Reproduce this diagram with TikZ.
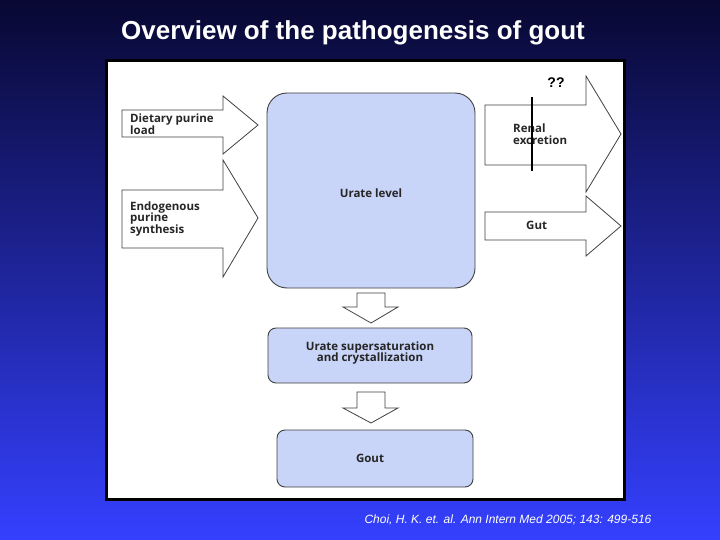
\documentclass[tikz,border=0pt]{standalone}
\usepackage{fontspec}
\setmainfont{Liberation Sans}
\newfontfamily\diag{Open Sans}
\definecolor{boxblue}{RGB}{200,212,248}
\definecolor{topbg}{RGB}{8,8,50}
\definecolor{botbg}{RGB}{52,64,255}
\begin{document}
\begin{tikzpicture}[x=1pt,y=-1pt,
  arr/.style={draw=black!75,fill=white,line width=0.8pt,line join=miter},
  box/.style={draw=black!75,fill=boxblue,line width=0.9pt},
  lab/.style={font=\diag\bfseries\fontsize{11.5}{11.5}\selectfont,text=black!85,align=left,inner sep=0pt}]
\useasboundingbox (0,0) rectangle (720,540);
\shade[top color=topbg,bottom color=botbg] (0,0) rectangle (720,540);
\node[font=\bfseries\fontsize{26}{26}\selectfont,text=white] (title) at (353,33) {Overview of the pathogenesis of gout};
\draw[fill=white,draw=black,line width=3pt] (106,61) rectangle (624,499);
% boxes
\draw[box,rounded corners=20pt] (267,93) rectangle (475,288);
\node[lab] (urate) at (371,193) {Urate level};
\draw[box,rounded corners=8pt] (268,328) rectangle (472,383);
\node[lab,align=center] (super) at (370,353) {Urate supersaturation\\and crystallization};
\draw[box,rounded corners=8pt] (277,430) rectangle (473,487);
\node[lab] (gout) at (370,458) {Gout};
% left arrows
\draw[arr] (122,110) -- (223,110) -- (223,96) -- (258,125) -- (223,154) -- (223,137) -- (122,137) -- cycle;
\node[lab,anchor=west] (diet) at (130,124) {Dietary purine\\load};
\draw[arr] (122,190) -- (223,190) -- (223,160) -- (258,218) -- (223,277) -- (223,248) -- (122,248) -- cycle;
\node[lab,anchor=west] (endo) at (130,219) {Endogenous\\purine\\synthesis};
% right arrows
\draw[arr] (485,105) -- (586,105) -- (586,76) -- (621,134) -- (586,192) -- (586,165) -- (485,165) -- cycle;
\node[lab,anchor=west] (renal) at (513,134) {Renal\\excretion};
\draw[arr] (485,212) -- (586,212) -- (586,196) -- (621,226) -- (586,256) -- (586,240) -- (485,240) -- cycle;
\node[lab,anchor=west] (gut) at (526,225) {Gut};
\draw[line width=2.5pt] (532,97) -- (532,171);
\node[font=\bfseries\fontsize{14}{14}\selectfont] (qq) at (556,83) {??};
% down arrows
\draw[arr] (357,293) -- (385,293) -- (385,307) -- (398,307) -- (371,323) -- (343,307) -- (357,307) -- cycle;
\draw[arr] (357,392) -- (385,392) -- (385,408) -- (398,408) -- (371,423) -- (343,408) -- (357,408) -- cycle;
\node[font=\itshape\fontsize{12}{12}\selectfont,text=white,anchor=west] (cite) at (361,520) {Choi, H. K. et. al. Ann Intern Med 2005; 143: 499-516};
\end{tikzpicture}
\end{document}
